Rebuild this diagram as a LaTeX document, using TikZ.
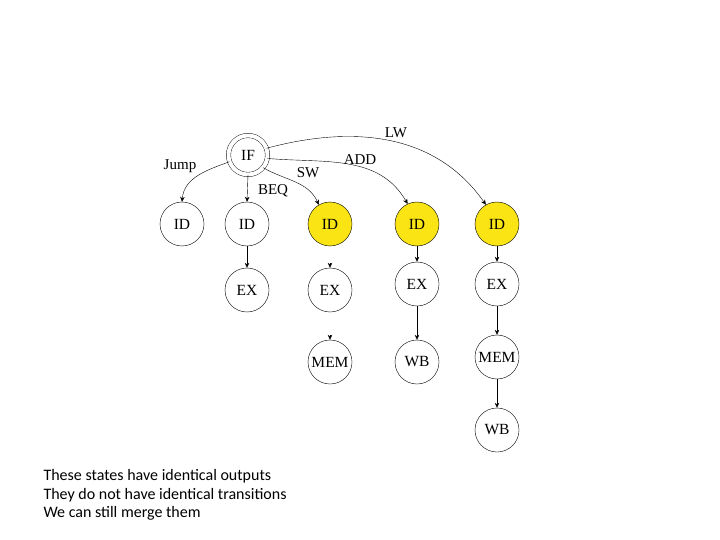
\documentclass[tikz,border=0pt]{standalone}
\usepackage{fontspec}
\setmainfont{Liberation Serif}
\newfontfamily\notefont{Carlito}
\usetikzlibrary{arrows.meta}
\definecolor{stateyellow}{RGB}{250,228,20}

\begin{document}
\begin{tikzpicture}[x=1pt, y=1pt, every node/.style={font=\fontsize{15}{15}\selectfont},
  state/.style={draw,circle,minimum size=44pt,inner sep=0pt,font=\fontsize{15.5}{15.5}\selectfont},
  hot/.style={state,fill=stateyellow},
  >={Stealth[length=5pt,width=4.5pt]}]
\useasboundingbox (0,0) rectangle (720,-540);
\node[state,double,double distance=4pt,minimum size=39pt] (if) at (248,-155) {IF};
% ID row
\node[state] (id1) at (182,-224) {ID};
\node[state] (id2) at (247,-224) {ID};
\node[hot] (id3) at (330,-224) {ID};
\node[hot] (id4) at (417,-224) {ID};
\node[hot] (id5) at (497,-224) {ID};
% transitions out of IF
\draw[->] (if.200) to[out=200,in=85] (id1.north);
\node at (180,-166) {Jump};
\draw[->] (if.south) -- (id2.north);
\node at (273,-191) {BEQ};
\draw[->] (if.-40) to[out=-30,in=115] (id3.120);
\node at (308,-173) {SW};
\draw[->] (if.-10) to[out=-5,in=120] (id4.115);
\node at (360,-160) {ADD};
\draw[->] (if.20) to[out=15,in=125] (id5.120);
\node at (396,-133) {LW};
% lower states
\node[state] (ex2) at (247,-290) {EX};
\node[state] (ex3) at (330,-290) {EX};
\node[state] (mem3) at (330,-362) {MEM};
\node[state] (ex4) at (417,-284) {EX};
\node[state] (wb4) at (417,-362) {WB};
\node[state] (ex5) at (497,-284) {EX};
\node[state] (mem5) at (497,-357) {MEM};
\node[state] (wb5) at (497,-430) {WB};
\draw[->] (id2) -- (ex2);
\draw[->] (id4) -- (ex4);
\draw[->] (ex4) -- (wb4);
\draw[->] (id5) -- (ex5);
\draw[->] (ex5) -- (mem5);
\draw[->] (mem5) -- (wb5);
% only the heads are left in column 3
\coordinate (s1) at (330,-263);
\coordinate (s2) at (330,-335);
\draw[->] (s1) -- (ex3);
\draw[->] (s2) -- (mem3);
\node[anchor=north west, align=left, font=\notefont\fontsize{16}{18.6}\selectfont] (note) at (40,-466)
  {These states have identical outputs\\They do not have identical transitions\\We can still merge them};
\end{tikzpicture}
\end{document}
